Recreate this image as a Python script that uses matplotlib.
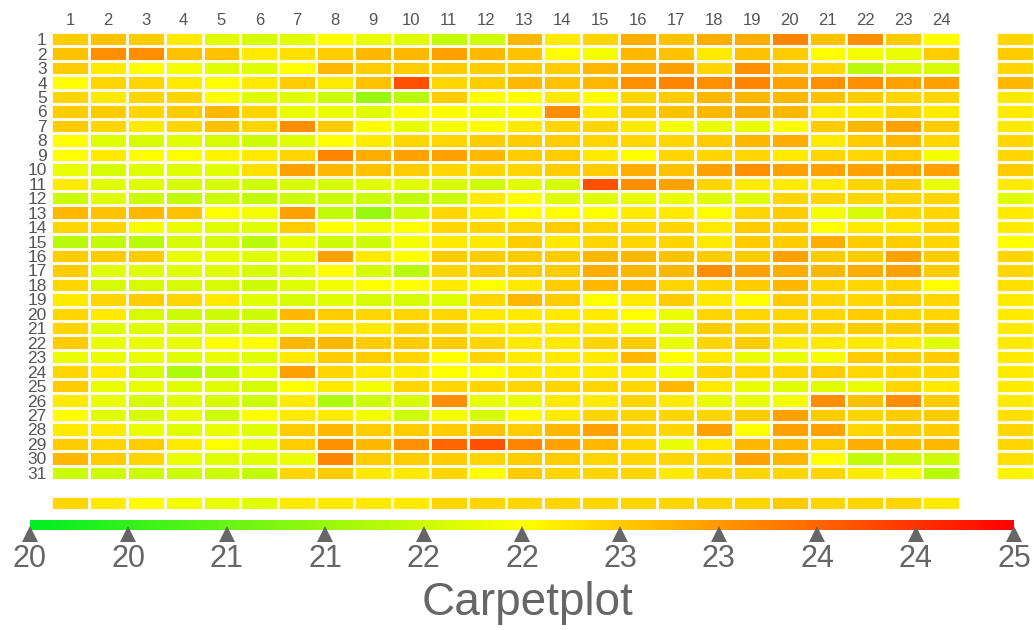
import numpy as np
import matplotlib.pyplot as plt
from matplotlib.colors import LinearSegmentedColormap, Normalize
from matplotlib.cm import ScalarMappable

plt.rcParams['font.family'] = ['Liberation Sans', 'DejaVu Sans']

# hourly values, one row per day (31 days x 24 hours)
days = list(range(1, 32))
hours = list(range(1, 25))
carpet = [
    [23.0, 23.1, 23.0, 22.7, 22.2, 22.1, 22.2, 22.5, 22.3, 22.2, 21.9, 22.0, 23.2, 22.7, 22.9, 23.3, 23.1, 23.3, 23.3, 23.7, 23.1, 23.6, 23.0, 22.5],
    [23.1, 23.6, 23.6, 23.1, 23.1, 22.7, 22.8, 23.0, 23.2, 23.2, 23.4, 23.2, 23.1, 22.5, 22.4, 23.2, 23.1, 22.7, 23.1, 23.0, 22.5, 22.4, 22.3, 23.0],
    [23.0, 22.7, 22.5, 22.4, 22.2, 22.2, 22.5, 23.2, 23.0, 23.0, 23.0, 23.0, 23.0, 23.0, 23.2, 23.3, 23.4, 22.9, 23.6, 23.1, 22.9, 21.8, 22.1, 22.1],
    [22.5, 22.9, 22.9, 22.7, 22.5, 22.7, 23.0, 22.7, 23.1, 24.2, 22.9, 23.0, 23.2, 23.1, 23.2, 23.6, 23.7, 23.6, 23.7, 23.4, 23.6, 23.6, 23.4, 23.4],
    [22.9, 22.7, 22.9, 22.9, 22.5, 22.2, 22.2, 22.0, 21.5, 21.8, 23.0, 22.5, 22.5, 22.7, 22.5, 22.9, 23.0, 23.2, 23.2, 23.2, 23.1, 23.0, 22.9, 22.9],
    [23.0, 23.0, 22.9, 23.0, 23.2, 22.9, 22.3, 22.3, 22.2, 22.5, 22.5, 22.4, 22.5, 23.6, 22.7, 23.0, 23.1, 23.2, 23.3, 23.2, 22.7, 22.7, 22.9, 22.7],
    [23.0, 22.9, 22.7, 22.9, 23.1, 22.9, 23.6, 23.0, 22.5, 22.3, 22.4, 22.5, 22.7, 22.9, 22.9, 22.7, 22.4, 22.3, 22.3, 22.5, 23.0, 23.2, 23.4, 23.0],
    [22.5, 22.2, 22.1, 22.2, 22.1, 22.0, 22.2, 22.5, 22.7, 22.9, 22.9, 23.0, 23.0, 23.0, 22.9, 22.9, 22.9, 23.0, 23.2, 23.3, 22.7, 23.0, 23.2, 22.9],
    [22.5, 22.7, 22.5, 22.5, 22.6, 22.7, 22.9, 23.7, 23.3, 23.4, 23.4, 23.2, 23.0, 23.0, 22.7, 22.5, 22.9, 22.9, 22.9, 22.7, 22.9, 22.9, 23.0, 22.4],
    [22.3, 22.1, 22.2, 22.2, 22.2, 22.8, 23.4, 23.2, 23.1, 23.0, 22.9, 22.9, 22.9, 23.0, 23.0, 23.3, 23.1, 23.4, 23.6, 23.4, 23.4, 23.4, 23.4, 23.4],
    [22.7, 22.2, 22.2, 22.1, 22.1, 22.0, 22.1, 22.1, 22.2, 22.2, 22.1, 22.0, 22.2, 22.1, 24.2, 23.6, 23.4, 22.9, 22.7, 22.7, 22.7, 22.9, 23.0, 22.3],
    [22.0, 22.2, 22.0, 21.9, 22.0, 21.9, 22.0, 22.0, 22.0, 21.9, 22.0, 22.7, 22.5, 22.2, 22.2, 22.3, 22.3, 22.2, 22.2, 22.9, 22.9, 22.9, 22.9, 22.9],
    [23.2, 23.1, 23.2, 23.1, 22.5, 22.4, 23.4, 21.9, 21.5, 22.0, 22.9, 22.7, 22.5, 22.5, 22.5, 22.7, 22.7, 22.5, 22.9, 23.0, 22.4, 22.1, 22.9, 22.9],
    [22.9, 22.9, 22.4, 22.3, 22.2, 22.2, 23.0, 22.5, 22.4, 22.5, 22.9, 22.9, 22.9, 23.0, 22.9, 22.9, 22.9, 22.7, 23.0, 23.0, 22.5, 22.7, 22.7, 22.9],
    [21.8, 21.9, 21.8, 22.1, 22.1, 21.8, 22.3, 22.0, 22.0, 22.4, 22.7, 22.7, 23.0, 22.7, 22.9, 22.9, 22.9, 22.7, 23.0, 23.0, 23.3, 23.0, 23.0, 22.9],
    [23.0, 23.0, 23.0, 22.3, 22.3, 22.2, 22.3, 23.4, 22.7, 22.5, 23.0, 23.0, 23.0, 23.0, 23.2, 23.2, 23.1, 23.0, 23.0, 23.4, 23.0, 23.0, 23.4, 23.0],
    [23.0, 22.2, 22.2, 22.2, 22.2, 22.1, 22.2, 22.5, 22.1, 21.8, 22.9, 23.0, 23.0, 23.0, 23.3, 23.2, 23.2, 23.6, 23.4, 23.3, 23.2, 23.3, 23.4, 23.0],
    [22.9, 22.1, 22.1, 22.1, 22.1, 22.0, 22.2, 22.4, 22.5, 22.5, 22.7, 22.5, 22.7, 23.0, 23.2, 23.2, 22.9, 22.9, 23.0, 23.2, 22.9, 22.9, 22.9, 22.5],
    [22.7, 22.9, 23.0, 22.9, 22.7, 22.2, 22.1, 22.2, 22.1, 22.1, 22.2, 22.9, 23.2, 23.0, 22.5, 22.7, 23.0, 22.7, 22.5, 23.0, 22.9, 22.9, 23.0, 22.9],
    [22.9, 22.7, 22.1, 22.0, 22.0, 22.0, 23.2, 23.0, 22.9, 22.9, 22.9, 22.7, 22.7, 22.7, 22.7, 22.5, 22.3, 22.9, 22.9, 22.9, 22.9, 23.0, 22.9, 22.9],
    [22.9, 22.2, 22.2, 22.1, 22.1, 22.1, 22.3, 22.7, 22.7, 22.9, 22.9, 22.7, 22.7, 22.7, 22.7, 22.4, 22.2, 23.0, 22.9, 22.9, 22.9, 23.0, 23.0, 23.0],
    [23.0, 22.3, 22.3, 22.3, 22.5, 22.5, 23.2, 23.2, 23.0, 23.0, 23.0, 22.9, 22.7, 22.7, 22.9, 23.0, 22.3, 22.9, 23.0, 22.7, 22.7, 22.7, 22.7, 22.2],
    [22.3, 22.3, 22.3, 22.2, 22.3, 22.2, 22.7, 23.0, 23.0, 22.9, 22.5, 22.9, 22.7, 22.7, 22.7, 23.2, 22.5, 22.7, 22.3, 22.3, 22.4, 23.0, 23.0, 23.0],
    [22.9, 22.7, 22.1, 21.7, 21.9, 22.3, 23.4, 22.9, 22.7, 22.7, 22.5, 22.5, 22.7, 22.7, 22.7, 22.7, 22.4, 22.9, 22.9, 22.9, 23.0, 22.9, 22.9, 22.9],
    [23.0, 22.3, 22.3, 22.2, 22.2, 22.1, 22.5, 22.7, 22.4, 22.9, 22.9, 22.9, 22.9, 22.9, 22.9, 22.9, 23.2, 22.7, 22.3, 22.2, 22.2, 22.3, 22.9, 22.7],
    [22.7, 22.3, 22.1, 22.2, 22.1, 22.0, 22.7, 21.7, 22.0, 22.1, 23.6, 22.3, 22.3, 22.7, 22.7, 22.9, 22.7, 22.3, 22.3, 22.4, 23.6, 23.1, 23.6, 23.0],
    [22.5, 22.2, 22.1, 22.3, 22.0, 22.5, 22.7, 22.7, 22.4, 22.0, 22.4, 22.1, 22.5, 22.7, 22.9, 22.9, 22.9, 22.9, 23.0, 23.4, 23.0, 22.9, 23.0, 23.0],
    [22.7, 22.7, 22.3, 22.2, 22.3, 22.2, 23.0, 23.2, 23.0, 23.0, 23.0, 23.1, 23.0, 23.2, 23.4, 23.0, 22.9, 23.4, 22.5, 23.4, 23.4, 22.9, 23.0, 23.0],
    [23.0, 22.9, 23.0, 22.7, 22.5, 22.3, 23.0, 23.6, 23.2, 23.6, 24.0, 24.2, 23.7, 23.4, 23.2, 22.9, 22.3, 22.7, 23.2, 23.2, 23.0, 23.3, 23.2, 23.2],
    [23.2, 23.0, 22.9, 22.3, 22.2, 22.2, 22.3, 23.7, 23.0, 23.0, 23.0, 22.9, 23.0, 23.0, 22.9, 22.9, 22.9, 22.9, 23.4, 23.2, 22.5, 21.9, 22.0, 22.0],
    [22.0, 22.0, 22.0, 22.0, 22.0, 21.9, 22.9, 23.0, 22.7, 22.7, 22.9, 22.5, 23.0, 22.9, 22.9, 22.9, 22.7, 22.9, 22.9, 22.9, 22.9, 22.7, 22.4, 21.8],
]
# daily means (right strip) and hourly means (bottom strip)
day_mean = [22.9, 23.0, 22.9, 23.2, 22.7, 22.7, 22.7, 22.9, 22.9, 23.0, 22.7, 22.2, 22.7, 22.7, 22.5, 22.9,
            22.9, 22.8, 22.7, 22.7, 22.7, 22.7, 22.7, 22.7, 22.7, 22.7, 22.8, 22.9, 22.9, 22.8, 22.6]
hour_mean = [22.9, 22.7, 22.5, 22.4, 22.3, 22.2, 22.7, 22.7, 22.7, 22.7, 22.9, 22.9,
             22.9, 22.9, 22.9, 22.9, 22.9, 22.9, 22.9, 23.0, 22.9, 22.9, 22.9, 22.7]
vmin, vmax = 20, 25
scale_ticks = [20, 20.5, 21, 21.5, 22, 22.5, 23, 23.5, 24, 24.5, 25]

cmap = LinearSegmentedColormap.from_list('gyr', ['#00ee22', '#ffff00', '#ff0000'])
norm = Normalize(vmin, vmax)
grey = '#666666'
W, H = 1034, 630

fig = plt.figure(figsize=(W / 100, H / 100), dpi=100)

def box(x0, y0, x1, y1):
    # pixel box -> figure fraction
    return [x0 / W, 1 - y1 / H, (x1 - x0) / W, (y1 - y0) / H]

# main carpet
ax = fig.add_axes(box(51, 32, 960, 480))
ax.pcolormesh(np.arange(len(hours) + 1), np.arange(len(days) + 1), np.array(carpet),
              cmap=cmap, norm=norm, edgecolors='#fffbe8', linewidth=0.8)
ax.set_xlim(0, len(hours))
ax.set_ylim(len(days), 0)
ax.xaxis.tick_top()
ax.set_xticks(np.arange(len(hours)) + 0.5)
ax.set_xticklabels(hours, fontsize=12, color='#555555')
ax.set_yticks(np.arange(len(days)) + 0.5)
ax.set_yticklabels(days, fontsize=12.5, color='#555555')
ax.tick_params(length=0, pad=3)
for s in ax.spines.values():
    s.set_visible(False)

# daily strip on the right
axr = fig.add_axes(box(996, 32, 1034, 480))
axr.pcolormesh(np.arange(2), np.arange(len(days) + 1), np.array(day_mean)[:, None],
               cmap=cmap, norm=norm, edgecolors='#fffbe8', linewidth=0.8)
axr.set_ylim(len(days), 0)
axr.axis('off')

# hourly strip below
axb = fig.add_axes(box(51, 496, 960, 510))
axb.pcolormesh(np.arange(len(hours) + 1), np.arange(2), np.array(hour_mean)[None, :],
               cmap=cmap, norm=norm, edgecolors='#fffbe8', linewidth=0.8)
axb.axis('off')

# colour scale with triangle markers
cax = fig.add_axes(box(30, 520, 1014, 530))
cb = fig.colorbar(ScalarMappable(norm=norm, cmap=cmap), cax=cax, orientation='horizontal')
cb.outline.set_visible(False)
cax.set_xticks([])
cax.plot(scale_ticks, [-0.4] * len(scale_ticks), '^', color=grey, markersize=11,
         clip_on=False, markeredgewidth=0)
for t in scale_ticks:
    cax.text(t, -3.7, str(int(t)), ha='center', va='baseline', fontsize=22, color=grey)

fig.text(527 / W, 1 - 615 / H, 'Carpetplot', ha='center', va='baseline', fontsize=33, color=grey)

fig.savefig('out.png', dpi=100)
